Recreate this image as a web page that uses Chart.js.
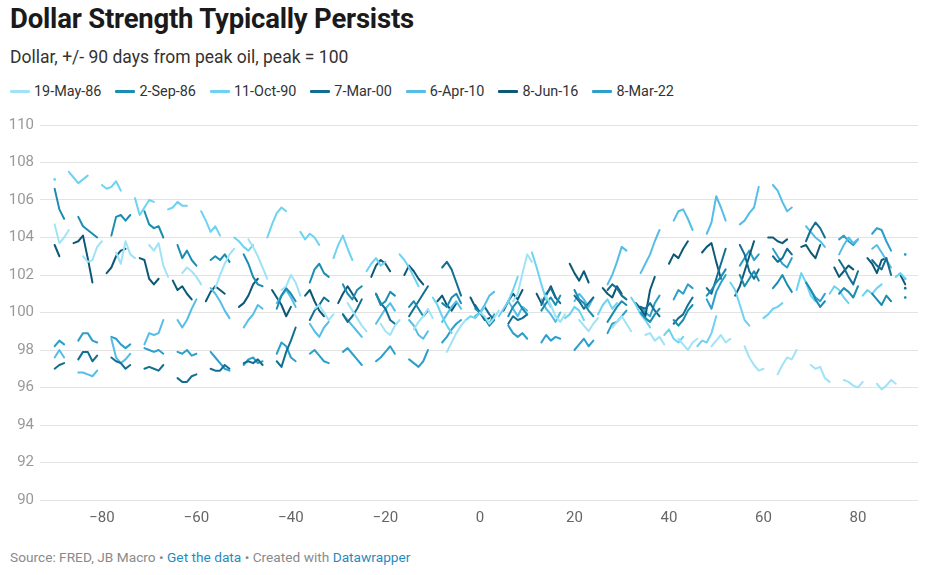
<!DOCTYPE html>
<html>
<head>
<meta charset="utf-8">
<script src="https://cdn.jsdelivr.net/npm/chart.js@4"></script>
<style>
  html, body { margin: 0; padding: 0; background: #fff; }
  body { width: 931px; height: 575px; position: relative; font-family: Roboto, "Noto Sans", sans-serif; color: #222; overflow: hidden; }
  #title { position: absolute; left: 10px; top: 2px; font-size: 27.5px; font-weight: 700; color: #1a1a1a; letter-spacing: -0.2px; }
  #subtitle { position: absolute; left: 10px; top: 47px; font-size: 17.5px; color: #333; }
  #legend { position: absolute; left: 10px; top: 83px; display: flex; font-size: 14.4px; color: #333; }
  .item { display: flex; align-items: center; margin-right: 14px; }
  .swatch { width: 20px; height: 3px; margin-right: 4px; border-radius: 1px; }
  #wrap { position: absolute; left: 0; top: 110px; width: 931px; height: 425px; }
  #footer { position: absolute; left: 10px; top: 549px; font-size: 13.7px; color: #8a8a8a; }
  #footer a { color: #1f8cc0; text-decoration: none; }
</style>
</head>
<body>
<div id="title">Dollar Strength Typically Persists</div>
<div id="subtitle">Dollar, +/- 90 days from peak oil, peak = 100</div>
<div id="legend"></div>
<div id="wrap"><canvas id="chart"></canvas></div>
<div id="footer">Source: FRED, JB Macro • <a>Get the data</a> • Created with <a>Datawrapper</a></div>

<script>
// days from peak oil, -90 ... +90
const days = Array.from({ length: 181 }, (_, i) => i - 90);
const n = null;

const seriesNames = ['19-May-86', '2-Sep-86', '11-Oct-90', '7-Mar-00', '6-Apr-10', '8-Jun-16', '8-Mar-22'];
const seriesColors = ['#9fe3f5', '#1a8db0', '#6dd3f0', '#126f91', '#56bde6', '#0c5877', '#2c9fcb'];
const yTicks = [90, 92, 94, 96, 98, 100, 102, 104, 106, 108, 110];
const xTicks = [-80, -60, -40, -20, 0, 20, 40, 60, 80];

// dollar index rebased, peak = 100 (weekends empty)
const may86 = [
  104.7, 103.7, 104.0, 104.4, n, n, 103.0,
  102.7, 102.8, 103.5, 103.8, n, n, 103.2,
  102.6, 103.8, 103.1, 102.9, n, n, 103.6,
  103.3, 103.7, 102.5, 101.9, n, n, 102.1,
  102.4, 102.2, 101.9, 101.5, n, n, 101.3,
  102.0, 102.6, 103.1, 103.4, n, n, 103.9,
  103.5, 103.0, 102.4, 101.8, n, n, 101.2,
  101.4, 102.0, 101.6, 100.9, n, n, 100.2,
  100.4, 100.0, 99.6, 99.9, n, n, 100.5,
  100.1, 99.7, 99.3, 99.0, n, n, 99.4,
  99.0, 98.8, 99.3, 99.6, n, n, 99.1,
  99.5, 99.8, 100.2, 99.7, n, n, 97.9,
  98.4, 98.9, 99.3, 99.6, n, n, 100.0,
  99.8, 99.4, 99.7, 100.1, n, n, 100.6,
  101.0, 102.1, 103.1, 102.7, n, n, 100.9,
  100.4, 99.8, 99.5, 99.9, n, n, 99.6,
  99.3, 99.0, 99.4, 99.7, n, n, 99.2,
  99.5, 99.8, 99.4, 99.0, n, n, 98.8,
  98.9, 98.5, 98.7, 98.3, n, n, 98.6,
  98.3, 98.0, 98.4, 98.6, n, n, 98.2,
  98.5, 98.8, 98.4, 98.6, n, n, 98.2,
  97.6, 97.2, 96.9, 97.0, n, n, 96.7,
  97.2, 97.6, 97.5, 98.0, n, n, 97.2,
  97.0, 97.1, 96.5, 96.3, n, n, 96.4,
  96.3, 96.1, 96.0, 96.3, n, n, 96.2,
  95.9, 96.1, 96.4, 96.2, n, n
];

const sep86 = [
  106.6, 105.5, 105.0, n, n, 105.1, 104.6,
  104.4, 104.2, 104.0, n, n, 104.1, 105.1,
  105.2, 104.9, 105.2, n, n, 105.4, 104.7,
  104.5, 104.6, 104.0, n, n, 103.6, 102.9,
  103.3, 102.8, 102.5, n, n, 102.8, 103.0,
  102.8, 103.1, 102.7, n, n, 103.1, 102.6,
  101.9, 101.5, 101.4, n, n, 100.2, 100.9,
  101.3, 101.0, 100.6, n, n, 101.6, 102.3,
  102.6, 102.1, 101.9, n, n, 101.5, 101.0,
  100.7, 101.2, 101.4, n, n, 101.0, 100.4,
  100.6, 101.1, 100.9, n, n, 100.3, 100.6,
  100.2, 99.8, 100.1, n, n, 100.5, 100.3,
  100.8, 101.0, 100.5, n, n, 100.2, 100.0,
  99.7, 99.3, 99.6, n, n, 99.8, 100.3,
  100.6, 100.2, 99.9, n, n, 100.1, 100.5,
  100.8, 100.4, 100.9, n, n, 101.2, 100.7,
  100.5, 100.1, 99.8, n, n, 99.5, 99.9,
  100.3, 100.6, 100.4, n, n, 100.0, 99.7,
  99.5, 99.9, 100.2, n, n, 99.6, 99.3,
  99.6, 100.1, 100.4, n, n, 100.9, 101.2,
  101.6, 101.9, 102.3, n, n, 102.0, 101.4,
  101.8, 102.2, 101.7, n, n, 101.3, 101.6,
  102.0, 101.5, 101.1, n, n, 101.6, 101.2,
  100.7, 100.3, 100.6, n, n, 101.0, 101.3,
  101.1, 100.8, 101.4, n, n, 101.0, 100.7,
  100.4, 100.9, 100.6, n, n, 100.8
];

const oct90 = [
  107.1, n, n, 107.5, 107.2, 106.9, 107.1,
  107.3, n, n, 106.8, 106.6, 106.7, 107.0,
  106.5, n, n, 106.1, 105.2, 105.6, 106.0,
  105.9, n, n, 105.5, 105.6, 105.9, 105.7,
  105.7, n, n, 105.4, 104.9, 104.3, 104.6,
  104.1, n, n, 104.0, 103.8, 103.5, 103.3,
  103.6, n, n, 104.0, 104.7, 105.3, 105.6,
  105.4, n, n, 104.3, 103.9, 104.2, 104.0,
  103.6, n, n, 102.9, 103.6, 104.1, 103.4,
  102.8, n, n, 102.2, 102.6, 102.9, 102.5,
  102.7, n, n, 103.1, 102.8, 102.4, 101.9,
  101.4, n, n, 100.8, 100.4, 99.8, 99.3,
  98.9, n, n, 99.6, 99.8, 99.7, 100.0,
  100.3, n, n, 99.8, 100.2, 100.6, 101.2,
  101.9, n, n, 103.2, 102.4, 101.5, 100.7,
  100.3, n, n, 99.7, 99.9, 100.3, 100.1,
  99.6, n, n, 99.9, 100.4, 100.7, 100.2,
  100.5, n, n, 100.8, 100.4, 99.9, 99.6,
  99.2, n, n, 98.8, 99.1, 98.6, 98.4,
  98.7, n, n, 98.2, 98.5, 98.4, 98.9,
  99.8, n, n, 101.6, 101.2, 100.4, 99.6,
  99.3, n, n, 99.7, 99.9, 100.2, 100.3,
  100.5, n, n, 101.2, 102.1, 101.6, 100.9,
  100.6, n, n, 101.0, 101.4, 101.2, 100.8,
  100.5, n, n, 100.9, 101.2, 101.0, 101.3,
  101.5, n, n, 101.9, 102.1, 101.8
];

const mar00 = [
  97.0, 97.2, 97.3, n, n, 97.5, 97.9,
  97.9, 97.4, 97.7, n, n, 97.6, 97.4,
  97.3, 97.0, 97.2, n, n, 97.0, 97.1,
  97.0, 96.9, 97.2, n, n, 96.5, 96.3,
  96.3, 96.6, 96.7, n, n, 97.0, 96.9,
  96.9, 97.2, 97.0, n, n, 97.3, 97.4,
  97.3, 97.5, 97.2, n, n, 97.4, 97.1,
  97.9, 98.5, 99.2, n, n, 99.6, 100.1,
  100.4, 100.8, 100.6, n, n, 99.9, 99.5,
  99.8, 100.2, 100.7, n, n, 101.0, 100.5,
  100.2, 99.6, 99.4, n, n, 99.8, 100.2,
  100.6, 101.0, 101.4, n, n, 102.4, 102.7,
  102.3, 101.6, 100.9, n, n, 100.4, 100.0,
  100.3, 99.9, 99.6, n, n, 99.4, 99.8,
  99.6, 99.7, 99.9, n, n, 100.4, 101.0,
  101.3, 100.8, 100.5, n, n, 100.9, 100.6,
  100.2, 100.5, 100.8, n, n, 101.2, 101.5,
  101.3, 100.9, 100.7, n, n, 100.3, 100.2,
  100.5, 100.1, 99.8, n, n, 99.4, 99.7,
  99.9, 100.4, 100.8, n, n, 101.3, 101.0,
  101.8, 102.6, 103.4, n, n, 103.6, 103.1,
  102.2, 101.8, 102.3, n, n, 103.0, 102.7,
  102.9, 103.4, 103.1, n, n, 103.8, 104.4,
  104.8, 104.5, 104.0, n, n, 102.8, 102.4,
  101.9, 101.5, 102.2, n, n, 102.8, 102.5,
  102.3, 102.9, 102.0, n, n, 101.3
];

const apr10 = [
  97.6, 98.0, 97.6, n, n, 96.8, 96.8,
  96.7, 96.6, 96.9, n, n, 98.6, 97.6,
  97.3, 97.5, 97.8, n, n, 98.3, 98.9,
  98.8, 98.9, 99.6, n, n, 99.6, 99.2,
  99.6, 100.2, 100.7, n, n, 101.3, 101.0,
  100.6, 100.1, 99.7, n, n, 99.2, 99.6,
  99.9, 100.4, 100.2, n, n, 100.5, 100.9,
  101.2, 100.8, 100.3, n, n, 99.4, 99.0,
  98.7, 99.2, 99.5, n, n, 99.9, 99.6,
  99.3, 99.0, 98.7, n, n, 99.4, 99.8,
  100.2, 100.5, 100.1, n, n, 99.6, 99.3,
  98.8, 98.6, 99.0, n, n, 99.5, 99.9,
  100.3, 100.6, 100.2, n, n, 99.8, 100.0,
  100.4, 100.9, 101.1, n, n, 100.6, 100.2,
  99.8, 100.3, 100.1, n, n, 100.7, 100.2,
  99.9, 99.5, 100.0, n, n, 100.6, 101.0,
  100.7, 100.3, 100.8, n, n, 101.5, 102.0,
  102.7, 103.5, 103.3, n, n, 102.1, 102.6,
  103.1, 103.8, 104.4, n, n, 104.9, 105.4,
  105.5, 105.0, 104.4, n, n, 104.2, 104.8,
  106.2, 105.6, 104.9, n, n, 104.7, 104.9,
  105.3, 105.6, 106.7, n, n, 106.8, 106.5,
  105.9, 105.4, 105.6, n, n, 104.6, 104.3,
  104.0, 103.8, 103.5, n, n, 103.1, 103.6,
  104.0, 103.7, 103.9, n, n, 103.4, 103.6,
  103.2, 102.8, 102.4, n, n, 101.8
];

const jun16 = [
  103.6, 103.0, n, n, 103.7, 103.8, 104.1,
  102.9, 101.6, n, n, 102.1, 102.4, 103.0,
  103.3, 103.4, n, n, 102.9, 102.8, 101.8,
  101.5, 101.8, n, n, 101.7, 101.2, 101.4,
  101.0, 100.7, n, n, 100.6, 101.1, 101.4,
  101.2, 101.0, n, n, 100.3, 100.5, 100.9,
  101.5, 101.8, n, n, 101.2, 100.8, 100.4,
  99.8, 100.3, n, n, 100.9, 101.2, 100.6,
  100.1, 99.8, n, n, 100.5, 101.0, 101.4,
  101.0, 100.6, n, n, 101.9, 102.5, 102.8,
  102.6, 102.2, n, n, 102.0, 102.5, 102.2,
  101.8, 101.5, n, n, 100.6, 100.9, 100.4,
  100.1, 100.5, n, n, 100.8, 100.3, 100.0,
  99.6, 99.7, n, n, 100.1, 100.6, 101.0,
  100.7, 101.2, n, n, 101.0, 100.5, 100.9,
  101.4, 100.8, n, n, 102.6, 102.1, 101.7,
  102.2, 101.6, n, n, 101.3, 101.0, 100.8,
  101.4, 101.0, n, n, 100.5, 100.2, 99.8,
  101.2, 101.9, n, n, 102.6, 103.1, 102.9,
  103.4, 103.8, n, n, 103.2, 103.5, 103.7,
  102.7, 101.8, n, n, 100.9, 101.4, 102.2,
  103.0, 103.8, n, n, 104.0, 104.0, 103.8,
  103.7, 103.9, n, n, 103.5, 103.6, 103.2,
  102.9, 103.6, n, n, 102.4, 101.9, 102.2,
  102.5, 102.3, n, n, 102.9, 102.6, 102.1,
  102.8, 102.9, n, n, 102.0, 101.5
];

const mar22 = [
  98.2, 98.5, 98.3, n, n, 98.5, 98.9,
  98.9, 98.5, 98.4, n, n, 98.7, 98.6,
  98.3, 98.1, 98.3, n, n, 98.1, 98.0,
  97.9, 98.0, 97.8, n, n, 97.9, 97.8,
  98.0, 97.7, 97.8, n, n, 97.9, 97.6,
  97.3, 97.0, 96.9, n, n, 97.2, 97.5,
  97.6, 97.3, 97.4, n, n, 97.8, 98.4,
  98.2, 97.6, 97.4, n, n, 97.8, 98.0,
  97.7, 97.4, 97.3, n, n, 97.9, 98.1,
  97.8, 97.5, 97.2, n, n, 97.4, 97.6,
  97.9, 98.2, 97.8, n, n, 97.5, 97.3,
  97.1, 97.4, 98.0, n, n, 98.4, 98.7,
  99.1, 99.4, 99.6, n, n, 99.8, 100.0,
  99.7, 99.4, 99.9, n, n, 99.3, 98.9,
  98.7, 98.9, 98.6, n, n, 98.4, 98.8,
  98.5, 98.7, 98.6, n, n, 98.0, 98.3,
  98.6, 98.2, 98.5, n, n, 98.9, 99.4,
  99.5, 99.8, 100.1, n, n, 100.3, 100.0,
  99.8, 100.5, 100.9, n, n, 100.7, 101.2,
  101.0, 101.5, 101.3, n, n, 100.7, 100.2,
  101.1, 101.6, 102.0, n, n, 102.5, 102.9,
  103.3, 102.8, 103.1, n, n, 103.4, 103.0,
  102.6, 102.4, 102.9, n, n, 101.6, 101.2,
  100.8, 100.6, 101.0, n, n, 103.9, 104.1,
  103.8, 103.6, 103.9, n, n, 104.2, 104.5,
  104.4, 103.8, 103.3, n, n, 103.1
];

const seriesData = [may86, sep86, oct90, mar00, apr10, jun16, mar22];

// legend
const legend = document.getElementById('legend');
seriesNames.forEach((name, i) => {
  const item = document.createElement('div');
  item.className = 'item';
  item.innerHTML = '<span class="swatch" style="background:' + seriesColors[i] + '"></span>' + name;
  legend.appendChild(item);
});

// isolated days show as a small dot, like the original
function dotRadius(ctx) {
  const d = ctx.dataset.data;
  const i = ctx.dataIndex;
  if (d[i] == null) return 0;
  const prev = i > 0 ? d[i - 1] : null;
  const next = i < d.length - 1 ? d[i + 1] : null;
  return (prev == null && next == null) ? 1.3 : 0;
}

new Chart(document.getElementById('chart'), {
  type: 'line',
  data: {
    labels: days,
    datasets: seriesNames.map((name, i) => ({
      label: name,
      data: seriesData[i],
      borderColor: seriesColors[i],
      backgroundColor: seriesColors[i],
      borderWidth: 2,
      pointRadius: dotRadius,
      pointBorderWidth: 0,
      spanGaps: false,
      tension: 0,
      borderJoinStyle: 'round',
      borderCapStyle: 'round'
    }))
  },
  options: {
    responsive: true,
    maintainAspectRatio: false,
    animation: false,
    layout: { padding: { top: 15, right: 13, left: 0, bottom: 0 } },
    plugins: {
      legend: { display: false },
      tooltip: { enabled: false }
    },
    scales: {
      x: {
        type: 'linear',
        min: -93.1,
        max: 92.7,
        afterBuildTicks: axis => { axis.ticks = xTicks.map(v => ({ value: v })); },
        afterFit: axis => { axis.height = 35; },
        grid: { display: false, drawTicks: false },
        border: { display: false },
        ticks: {
          padding: 9,
          color: '#666',
          font: { family: 'Roboto', size: 15 },
          callback: v => v < 0 ? '\u2212' + Math.abs(v) : String(v)
        }
      },
      y: {
        min: 90,
        max: 110,
        afterBuildTicks: axis => { axis.ticks = yTicks.map(v => ({ value: v })); },
        afterFit: axis => { axis.width = 40; },
        grid: { color: '#e3e3e3', lineWidth: 1, drawTicks: false },
        border: { display: false },
        ticks: {
          padding: 6,
          color: '#999',
          font: { family: 'Roboto', size: 15 }
        }
      }
    }
  }
});
</script>
</body>
</html>
